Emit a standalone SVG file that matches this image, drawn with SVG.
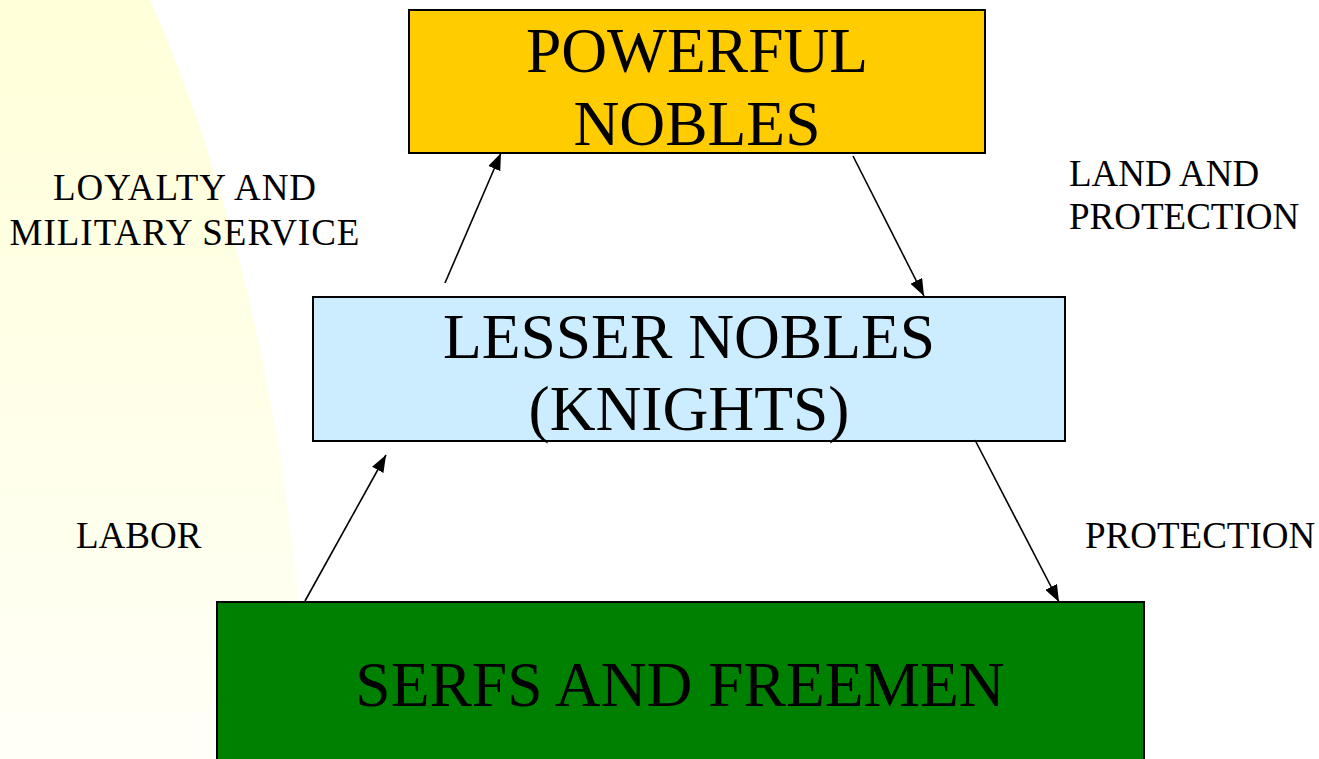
<svg xmlns="http://www.w3.org/2000/svg" width="1319" height="759" viewBox="0 0 1319 759">
<defs>
<linearGradient id="bgGrad" x1="0" y1="0" x2="0" y2="1">
<stop offset="0" stop-color="#FFFFD9"/>
<stop offset="1" stop-color="#FFFFF7"/>
</linearGradient>
<marker id="arrow" markerUnits="userSpaceOnUse" markerWidth="17" markerHeight="13" refX="17" refY="6.5" orient="auto">
<path d="M0,0 L17,6.5 L0,13 z" fill="#000"/>
</marker>
<style>
.box{stroke:#000;stroke-width:2}
.big{font-family:"Liberation Serif","Times New Roman",serif;font-size:63.5px;fill:#000;text-anchor:middle}
.lbl{font-family:"Liberation Serif","Times New Roman",serif;font-size:37px;fill:#000}
.sp{letter-spacing:1px}
.conn{stroke:#000;stroke-width:1.6;fill:none;marker-end:url(#arrow)}
</style>
</defs>
<rect x="0" y="0" width="1319" height="759" fill="#fff"/>
<path d="M0,0 L150,0 C230,180 300,450 308,759 L0,759 Z" fill="url(#bgGrad)"/>
<g id="powerful-nobles">
<rect class="box" x="409" y="10" width="576" height="143" fill="#FFCC00"/>
<text class="big" x="697" y="72">POWERFUL</text>
<text class="big" x="697" y="145">NOBLES</text>
</g>
<g id="lesser-nobles">
<rect class="box" x="313" y="297" width="752" height="144" fill="#CCECFF"/>
<text class="big" x="689" y="358">LESSER NOBLES</text>
<text class="big" x="689" y="430">(KNIGHTS)</text>
</g>
<g id="serfs">
<rect class="box" x="217" y="602" width="927" height="170" fill="#008000"/>
<text class="big" x="680" y="706">SERFS AND FREEMEN</text>
</g>
<g id="labels">
<text class="lbl sp" x="185" y="200" text-anchor="middle">LOYALTY AND</text>
<text class="lbl sp" x="185" y="245" text-anchor="middle">MILITARY SERVICE</text>
<text class="lbl" x="1069" y="186">LAND AND</text>
<text class="lbl" x="1069" y="229">PROTECTION</text>
<text class="lbl" x="76" y="548">LABOR</text>
<text class="lbl" x="1085" y="548">PROTECTION</text>
</g>
<g id="connectors">
<line class="conn" x1="445" y1="283" x2="501" y2="153"/>
<line class="conn" x1="853" y1="156" x2="924" y2="296"/>
<line class="conn" x1="305" y1="601" x2="386" y2="455"/>
<line class="conn" x1="975" y1="440" x2="1059" y2="602"/>
</g>
</svg>
